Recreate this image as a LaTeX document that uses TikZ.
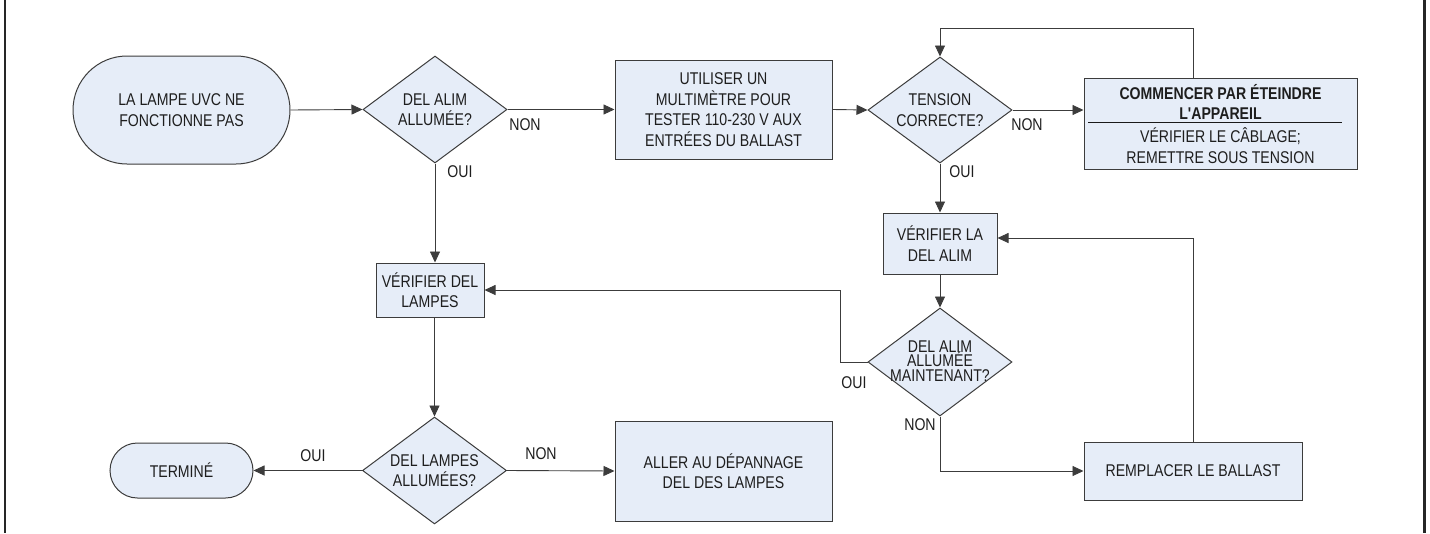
\documentclass[tikz,border=0pt]{standalone}
\usepackage{fontspec}
\setmainfont{Liberation Sans}[FakeStretch=0.83, Ligatures=TeXOff]
\usetikzlibrary{shapes.geometric,arrows.meta,calc}
\definecolor{fillc}{RGB}{230,237,248}
\definecolor{linec}{RGB}{60,60,60}
\definecolor{txtc}{RGB}{30,30,30}
\begin{document}
\begin{tikzpicture}[x=1pt,y=-1pt,
  every node/.style={font=\fontsize{17}{20.5}\selectfont, text=txtc, align=center},
  box/.style={draw=linec, line width=1pt, fill=fillc, rectangle, inner sep=0pt},
  term/.style={box, rounded corners=#1},
  dia/.style={draw=linec, line width=1pt, fill=fillc, diamond, inner sep=0pt, minimum width=144pt, minimum height=107pt},
  arr/.style={draw=linec, line width=0.9pt, -{Triangle[length=11pt,width=10pt]}},
  lbl/.style={inner sep=0pt, font=\fontsize{17}{20}\selectfont}
]
\useasboundingbox (0,0) rectangle (1430,533);
\draw[line width=2.5pt, black!85] (5,0) -- (5,533);
\draw[line width=2.5pt, black!85] (1424.5,0) -- (1424.5,533);

% nodes
\node[term=54pt, minimum width=217pt, minimum height=108pt] (start) at (181.5,110) {LA LAMPE UVC NE\\FONCTIONNE PAS};
\node[dia] (d1) at (435,109.5) {};
\node (d1t) at (d1) {DEL ALIM\\ALLUMÉE?};
\node[box, minimum width=217pt, minimum height=99pt] (b1) at (723.5,109.5) {UTILISER UN\\MULTIMÈTRE POUR\\TESTER 110-230 V AUX\\ENTRÉES DU BALLAST};
\node[dia, minimum height=106pt] (d2) at (940,110) {};
\node (d2t) at (d2) {TENSION\\CORRECTE?};
\node[box, minimum width=273pt, minimum height=91pt] (b2) at (1220.5,123.5) {};
\node (b2a) at (1220.5,102) {\bfseries COMMENCER PAR ÉTEINDRE\\\bfseries L'APPAREIL};
\node (b2b) at (1220.5,145.5) {VÉRIFIER LE CÂBLAGE;\\REMETTRE SOUS TENSION};
\draw[line width=1pt, black!90] (1088,122) -- (1342,122);
\node[box, minimum width=114pt, minimum height=61pt] (vl) at (940,243.5) {VÉRIFIER LA\\DEL ALIM};
\node[dia, minimum height=108pt] (d3) at (940,362) {};
\node[font={\fontsize{17}{14.5}\selectfont\lineskiplimit=-30pt}] (d3t) at (940,361) {DEL ALIM\\ALLUMÉE\\MAINTENANT?};
\node[box, minimum width=218pt, minimum height=58pt] (rep) at (1193,471) {REMPLACER LE BALLAST};
\node[box, minimum width=108pt, minimum height=54pt] (vd) at (430,290) {VÉRIFIER DEL\\LAMPES};
\node[dia] (d4) at (434.5,470.5) {};
\node (d4t) at (d4) {DEL LAMPES\\ALLUMÉES?};
\node[term=27.5pt, minimum width=143pt, minimum height=55pt] (fin) at (181.5,470.5) {TERMINÉ};
\node[box, minimum width=217pt, minimum height=100pt] (aller) at (723.5,471) {ALLER AU DÉPANNAGE\\DEL DES LAMPES};

% labels
\node[lbl] (l1) at (525,125) {NON};
\node[lbl] (l2) at (460,172) {OUI};
\node[lbl] (l3) at (1027,125) {NON};
\node[lbl] (l4) at (962,172) {OUI};
\node[lbl] (l5) at (854,383) {OUI};
\node[lbl] (l6) at (920,425) {NON};
\node[lbl] (l7) at (313,456) {OUI};
\node[lbl] (l8) at (541,454) {NON};

% connectors
\coordinate (top) at (1193,28);
\draw[arr] (start.east) -- (d1.west);
\draw[arr] (d1.east) -- (b1.west);
\draw[arr] (b1.east) -- (d2.west);
\draw[arr] (d2.east) -- (d2.east -| b2.west);
\draw[arr] (top |- b2.north) -- (top) -| (d2.north);
\draw[arr] (d2.south) -- (vl.north);
\draw[arr] (vl.south) -- (d3.north);
\draw[arr] (d3.west) -- ++(-27,0) |- (vd.east);
\draw[arr] (d3.south) |- (rep.west);
\draw[arr] (rep.north) |- ($(vl.east)+(0,-5.5)$);
\draw[arr] (d1.south) -- (d1.south |- vd.north);
\draw[arr] (d4.north |- vd.south) -- (d4.north);
\draw[arr] (d4.west) -- (fin.east);
\draw[arr] (d4.east) -- (aller.west);
\end{tikzpicture}
\end{document}
